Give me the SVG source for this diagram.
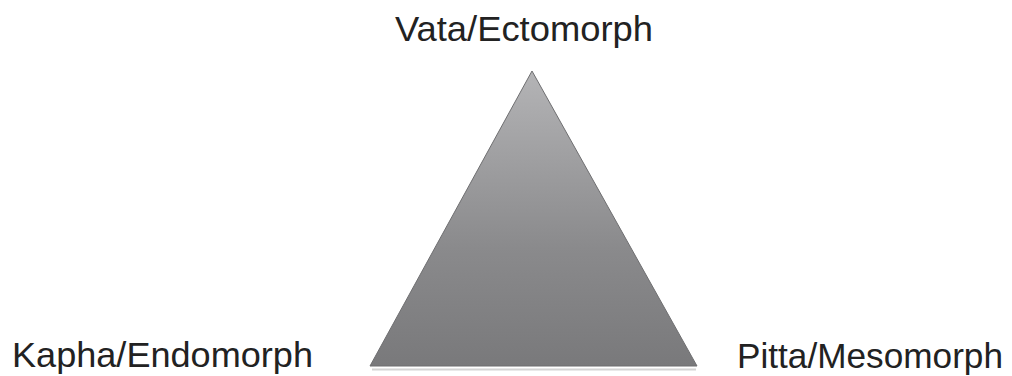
<svg xmlns="http://www.w3.org/2000/svg" width="1012" height="376" viewBox="0 0 1012 376">
<defs>
<linearGradient id="g" x1="0" y1="0" x2="0" y2="1">
<stop offset="0" stop-color="#b4b4b6"/>
<stop offset="0.6" stop-color="#8a8a8c"/>
<stop offset="1" stop-color="#79797b"/>
</linearGradient>
<style>
.lbl{font-family:"Futura","Liberation Sans","DejaVu Sans",sans-serif;font-size:34.5px;fill:#222;}
</style>
</defs>
<rect width="1012" height="376" fill="#fff"/>
<g id="triangle">
<line x1="372" y1="369.5" x2="696" y2="369.5" stroke="#d4d4d4" stroke-width="2"/>
<polygon points="532,71 370,366 697,366" fill="url(#g)" stroke="#6e6e70" stroke-width="1"/>
</g>
<g id="vata"><text class="lbl" x="395" y="41" textLength="258" lengthAdjust="spacingAndGlyphs">Vata/Ectomorph</text></g>
<g id="kapha"><text class="lbl" x="12" y="367" textLength="301" lengthAdjust="spacingAndGlyphs">Kapha/Endomorph</text></g>
<g id="pitta"><text class="lbl" x="737" y="368" textLength="266" lengthAdjust="spacingAndGlyphs">Pitta/Mesomorph</text></g>
<g id="connectors"/>
</svg>
